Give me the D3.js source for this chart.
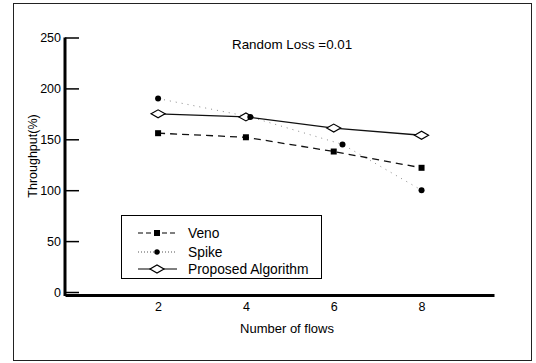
<!DOCTYPE html>
<meta charset="utf-8">
<style>
    body { margin: 0; background: #fff; }
    svg { font-family: "Liberation Sans", Arial, sans-serif; }
    .axis path { stroke: #000; stroke-width: 3; }
    .axis line { stroke: #000; stroke-width: 1.5; }
    .axis text { font-family: "Liberation Sans", Arial, sans-serif; font-size: 12.5px; fill: #000; }
</style>
<svg width="536" height="363"></svg>
<script src="https://cdn.jsdelivr.net/npm/d3@7"></script>
<script>
    // data
    var flows = [2, 4, 6, 8];
    var spikeFlows = [2, 4.1, 6.2, 8];
    var veno = [156, 152, 138, 122];
    var spike = [190, 172, 145, 100];
    var proposed = [175, 172, 161, 154];
    var yTicks = [0, 50, 100, 150, 200, 250];
    var xTicks = [2, 4, 6, 8];
    var seriesNames = ["Veno", "Spike", "Proposed Algorithm"];

    var svg = d3.select("svg");

    // outer frame
    svg.append("rect")
        .attr("x", 13.5).attr("y", 3.5)
        .attr("width", 518).attr("height", 357)
        .attr("fill", "none")
        .attr("stroke", "#222")
        .attr("stroke-width", 1);

    var x = d3.scaleLinear().domain([-0.12, 9.65]).range([65, 494]),
        y = d3.scaleLinear().domain([0, 250]).range([292, 37.5]);

    // y axis, ticks pointing inward
    var yAxis = d3.axisLeft(y)
        .tickValues(yTicks)
        .tickSizeInner(-14)
        .tickSizeOuter(0)
        .tickPadding(4);

    svg.append("g")
        .attr("class", "axis axis--y")
        .attr("transform", "translate(" + x.range()[0] + ",0)")
        .call(yAxis)
        .select(".domain").attr("d", "M0," + y(250) + "V296");

    // x axis, no tick marks
    var xAxis = d3.axisBottom(x)
        .tickValues(xTicks)
        .tickSize(0)
        .tickPadding(7);

    svg.append("g")
        .attr("class", "axis axis--x")
        .attr("transform", "translate(0,295)")
        .call(xAxis);

    // axis titles
    svg.append("text")
        .attr("x", 287).attr("y", 333)
        .attr("text-anchor", "middle")
        .attr("font-size", "13px")
        .text("Number of flows");

    svg.append("text")
        .attr("transform", "translate(37,156) rotate(-90)")
        .attr("text-anchor", "middle")
        .attr("font-size", "12.5px")
        .text("Throughput(%)");

    svg.append("text")
        .attr("x", 232).attr("y", 48.5)
        .attr("font-size", "13.4px")
        .text("Random Loss =0.01");

    var line = d3.line()
        .x(function (d) { return x(d[0]); })
        .y(function (d) { return y(d[1]); });

    var venoPts = d3.zip(flows, veno),
        spikePts = d3.zip(spikeFlows, spike),
        propPts = d3.zip(flows, proposed);

    var diamond = "M-7,0L0,-4L7,0L0,4Z";

    // Spike: faint sparse dotted line
    svg.append("path")
        .datum(spikePts)
        .attr("d", line)
        .attr("fill", "none")
        .attr("stroke", "#8a8a8a")
        .attr("stroke-width", 1)
        .attr("stroke-dasharray", "1,5");

    // Veno: dashed line
    svg.append("path")
        .datum(venoPts)
        .attr("d", line)
        .attr("fill", "none")
        .attr("stroke", "#111")
        .attr("stroke-width", 1.3)
        .attr("stroke-dasharray", "7,5");

    // Proposed: solid line
    svg.append("path")
        .datum(propPts)
        .attr("d", line)
        .attr("fill", "none")
        .attr("stroke", "#111")
        .attr("stroke-width", 1.3);

    svg.selectAll(".mk-prop")
        .data(propPts)
        .enter().append("path")
        .attr("class", "mk-prop")
        .attr("transform", function (d) { return "translate(" + x(d[0]) + "," + y(d[1]) + ")"; })
        .attr("d", diamond)
        .attr("fill", "#fff")
        .attr("stroke", "#000")
        .attr("stroke-width", 1.2);

    svg.selectAll(".mk-veno")
        .data(venoPts)
        .enter().append("rect")
        .attr("class", "mk-veno")
        .attr("x", function (d) { return x(d[0]) - 3; })
        .attr("y", function (d) { return y(d[1]) - 3; })
        .attr("width", 6).attr("height", 6)
        .attr("fill", "#000");

    svg.selectAll(".mk-spike")
        .data(spikePts)
        .enter().append("circle")
        .attr("class", "mk-spike")
        .attr("cx", function (d) { return x(d[0]); })
        .attr("cy", function (d) { return y(d[1]); })
        .attr("r", 3)
        .attr("fill", "#000");

    // legend
    var legend = svg.append("g").attr("transform", "translate(121,215)");
    legend.append("rect")
        .attr("x", 0.5).attr("y", 0.5)
        .attr("width", 200).attr("height", 63)
        .attr("fill", "#fff")
        .attr("stroke", "#000")
        .attr("stroke-width", 1);

    var rows = legend.selectAll(".row")
        .data(seriesNames)
        .enter().append("g")
        .attr("class", "row")
        .attr("transform", function (d, i) { return "translate(0," + [18, 37, 54][i] + ")"; });

    rows.append("line")
        .attr("x1", 17).attr("x2", 56)
        .attr("stroke", function (d, i) { return i === 1 ? "#555" : "#000"; })
        .attr("stroke-width", function (d, i) { return i === 1 ? 1 : 1.2; })
        .attr("stroke-dasharray", function (d, i) { return ["5,3", "1,2", null][i]; });

    rows.each(function (d, i) {
        var r = d3.select(this);
        if (i === 0) {
            r.append("rect").attr("x", 33).attr("y", -3).attr("width", 6).attr("height", 6).attr("fill", "#000");
        } else if (i === 1) {
            r.append("circle").attr("cx", 36).attr("cy", 0).attr("r", 2.7).attr("fill", "#000");
        } else {
            r.append("path").attr("transform", "translate(36,0)").attr("d", diamond)
                .attr("fill", "#fff").attr("stroke", "#000").attr("stroke-width", 1.2);
        }
    });

    rows.append("text")
        .attr("x", 67).attr("y", 5)
        .attr("font-size", "13.8px")
        .text(function (d) { return d; });
</script>
